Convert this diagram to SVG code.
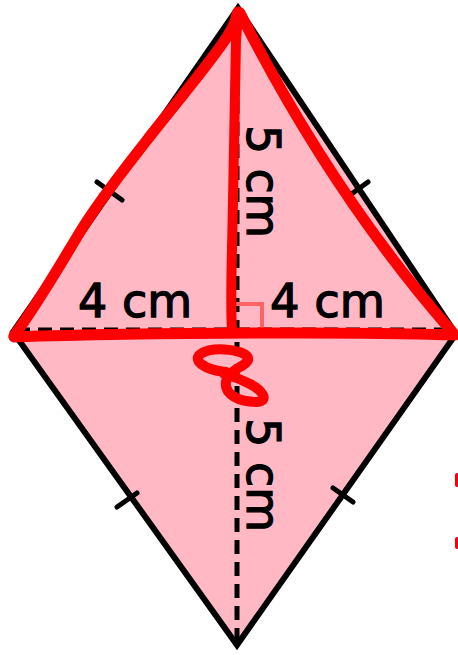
<svg xmlns="http://www.w3.org/2000/svg" width="458" height="655" viewBox="0 0 458 655">
<style>
.edge{fill:#ffb8c4;stroke:#000;stroke-width:6;stroke-linejoin:miter}
.dash{stroke:#000;stroke-width:5;stroke-dasharray:14 8;fill:none}
.tick{stroke:#000;stroke-width:5;stroke-linecap:round}
.lbl{font-family:"DejaVu Sans","Liberation Sans",sans-serif;font-size:47px;fill:#000;stroke:#000;stroke-width:1.3}
.red{stroke:#ff0000;fill:none;stroke-linecap:round;stroke-linejoin:round}
</style>
<rect width="458" height="655" fill="#fff"/>
<g id="rhombus">
<polygon class="edge" points="238,8 456,334 237,645 13,332"/>
</g>
<g id="diagonals">
<line class="dash" x1="16" y1="330" x2="454" y2="330"/>
<line class="dash" x1="237" y1="12" x2="237" y2="640"/>
</g>
<g id="ticks">
<line class="tick" x1="97" y1="182" x2="122" y2="200"/>
<line class="tick" x1="350" y1="195" x2="368" y2="182"/>
<line class="tick" x1="117" y1="507" x2="137" y2="493"/>
<line class="tick" x1="333" y1="488" x2="353" y2="502"/>
</g>
<g id="labels">
<text class="lbl" x="78" y="317" textLength="114" lengthAdjust="spacingAndGlyphs">4 cm</text>
<text class="lbl" x="270" y="317" textLength="115" lengthAdjust="spacingAndGlyphs">4 cm</text>
<text class="lbl" transform="translate(247,125) rotate(90)" textLength="113" lengthAdjust="spacingAndGlyphs">5 cm</text>
<text class="lbl" transform="translate(247,418) rotate(90)" textLength="114" lengthAdjust="spacingAndGlyphs">5 cm</text>
</g>
<g id="right-angle">
<polyline points="234,304 262,304 262,328" fill="none" stroke="#ff6464" stroke-width="4"/>
</g>
<g id="red-annotation">
<path class="red" stroke-width="11" d="M14,336 C40,300 60,265 80,232 S130,162 147,140 S200,75 220,47 S234,20 238,12"/>
<path class="red" stroke-width="11" d="M14,337 C100,334 200,333 300,333 C360,333 420,334 455,335"/>
<path class="red" stroke-width="10" d="M232,330 C230,300 232,260 233,200 C234,140 235,80 236,40 C237,25 238,18 240,13"/>
<path class="red" stroke-width="11" d="M240,13 Q332,195 454,334"/>
<path class="red" stroke-width="10" d="M226,372 C205,370 190,360 202,353 C215,346 246,350 248,358 C250,366 228,368 226,382 C224,395 240,402 257,402 C270,401 262,390 250,384 C240,379 232,376 224,374"/>
<path class="red" stroke-width="4" d="M457,475 L457,485 M457,539 L457,547"/>
</g>
</svg>
